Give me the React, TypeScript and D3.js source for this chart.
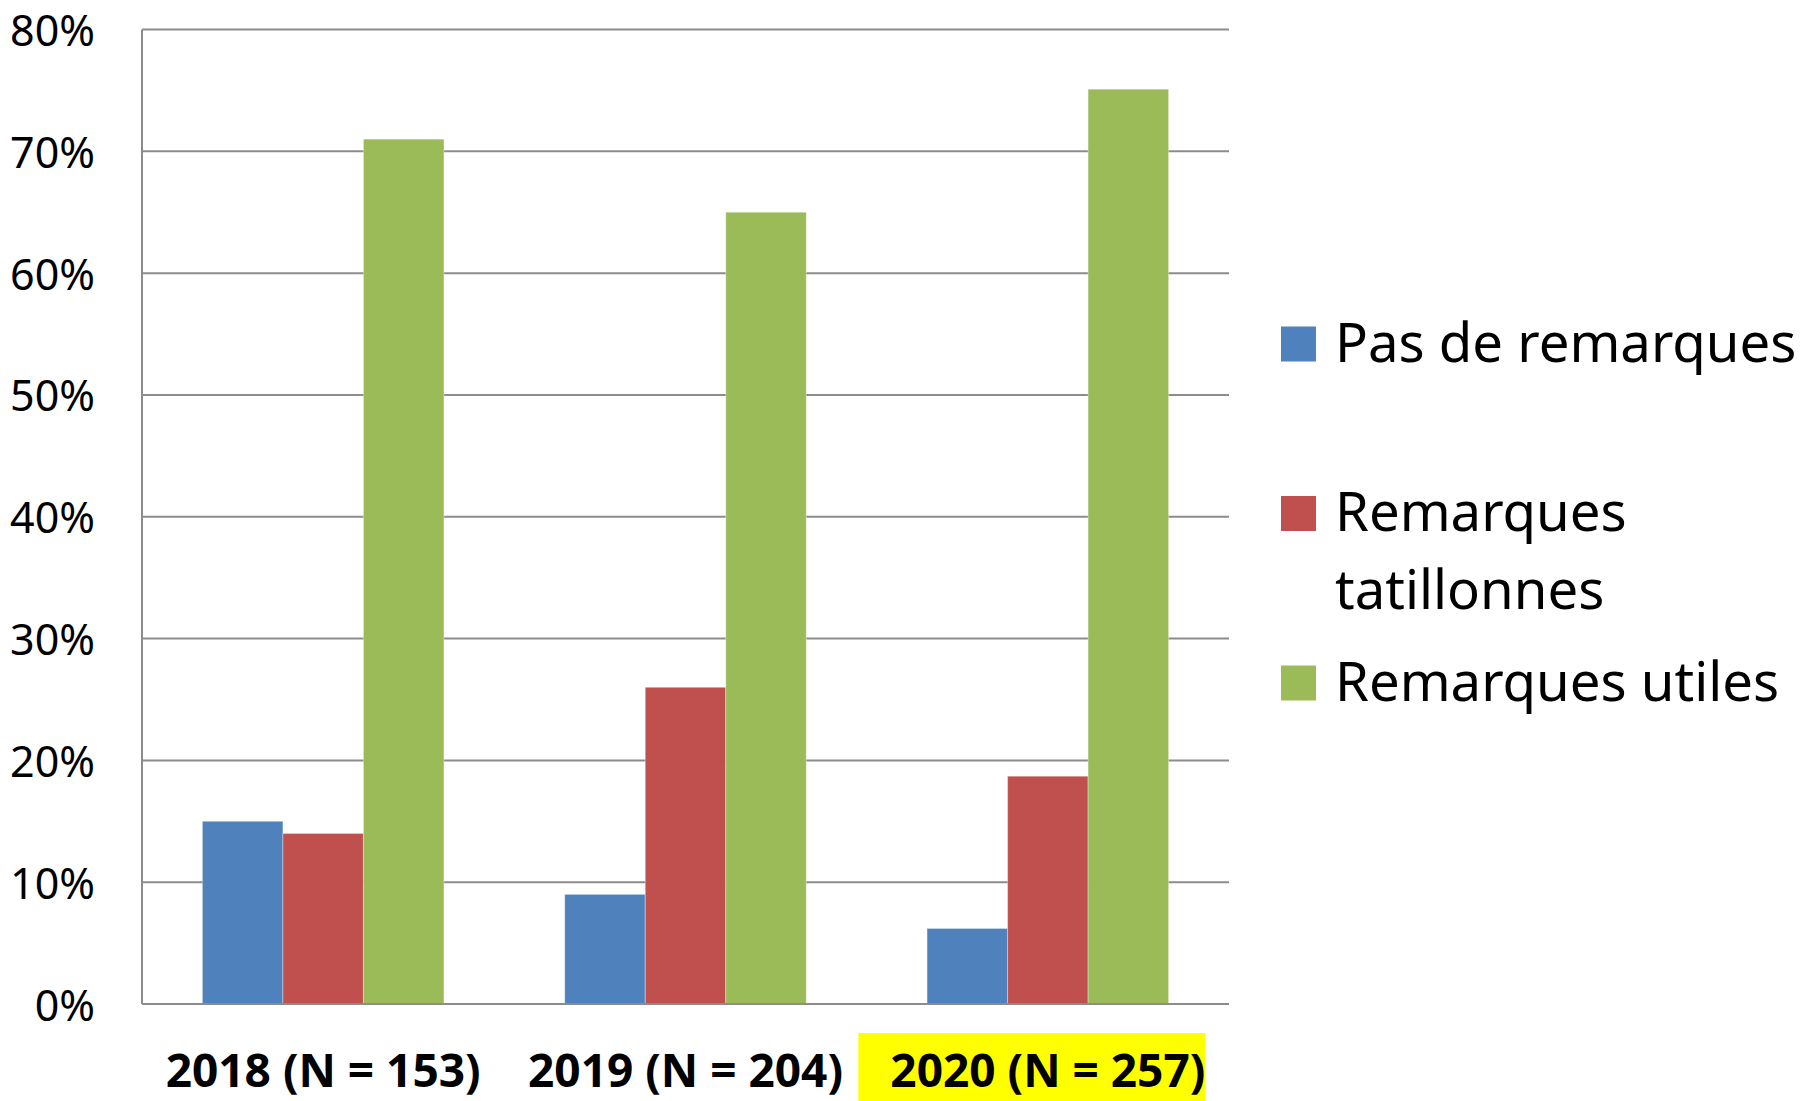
import React, { useLayoutEffect, useRef, useState } from "react";
import * as d3 from "d3";

const categories = ["2018 (N = 153)", "2019 (N = 204)", "2020 (N = 257)"];
const seriesNames = ["Pas de remarques", "Remarques tatillonnes", "Remarques utiles"];
const pasDeRemarques = [15, 9, 6.2];
const remarquesTatillonnes = [14, 26, 18.7];
const remarquesUtiles = [71, 65, 75.1];
const yTicks = [0, 10, 20, 30, 40, 50, 60, 70, 80];
const highlighted = "2020 (N = 257)";

const colors = ["#4F81BD", "#C0504D", "#9BBB59"];
const values = [pasDeRemarques, remarquesTatillonnes, remarquesUtiles];

const W = 1805;
const H = 1101;
const margin = { top: 29.5, right: 576, bottom: 97, left: 142 };
const FONT = "'Noto Sans', sans-serif";

export default function App() {
  const labelRef = useRef<SVGTextElement>(null);
  const [hl, setHl] = useState<{ x: number; w: number } | null>(null);

  const x0 = d3
    .scaleBand()
    .domain(categories)
    .range([margin.left, W - margin.right])
    .paddingInner(1 / 3)
    .paddingOuter(1 / 6);
  const x1 = d3
    .scaleBand()
    .domain(seriesNames)
    .range([0, x0.bandwidth()]);
  const y = d3
    .scaleLinear()
    .domain([0, 80])
    .range([H - margin.bottom, margin.top]);

  // mesure du libellé surligné
  useLayoutEffect(() => {
    if (labelRef.current) {
      const b = labelRef.current.getBBox();
      setHl({ x: b.x - 32, w: b.width + 32 });
    }
  }, []);

  const plotRight = W - margin.right;
  const legendRows = [
    { lines: ["Pas de remarques"], sq: 344 },
    { lines: ["Remarques", "tatillonnes"], sq: 513.5 },
    { lines: ["Remarques utiles"], sq: 683 },
  ];

  return (
    <svg
      width={W}
      height={H}
      style={{ position: "absolute", left: 0, top: 0, background: "#fff" }}
      fontFamily={FONT}
    >
      {/* grille */}
      {yTicks.map((t) => (
        <line
          key={t}
          x1={margin.left}
          x2={plotRight}
          y1={y(t)}
          y2={y(t)}
          stroke="#8c8c8c"
          strokeWidth={2}
        />
      ))}
      <line
        x1={margin.left}
        x2={margin.left}
        y1={y(80)}
        y2={y(0)}
        stroke="#8c8c8c"
        strokeWidth={2}
      />

      {/* barres */}
      {categories.map((c, i) => (
        <g key={c} transform={`translate(${x0(c)},0)`}>
          {seriesNames.map((s, j) => (
            <rect
              key={s}
              x={x1(s)}
              y={y(values[j][i])}
              width={x1.bandwidth()}
              height={y(0) - y(values[j][i])}
              fill={colors[j]}
              stroke="rgba(255,255,255,0.35)"
              strokeWidth={1}
            />
          ))}
        </g>
      ))}
      <line
        x1={margin.left}
        x2={plotRight}
        y1={y(0)}
        y2={y(0)}
        stroke="#8c8c8c"
        strokeWidth={2}
      />

      {/* axe Y */}
      {yTicks.map((t) => (
        <text
          key={t}
          x={95}
          y={y(t)}
          textAnchor="end"
          dominantBaseline="central"
          fontSize={43}
          fill="#000"
        >
          {t}%
        </text>
      ))}

      {/* surlignage */}
      {hl && (
        <rect x={hl.x} y={1033} width={hl.w} height={H - 1033} fill="#FFFF00" />
      )}

      {/* axe X */}
      {categories.map((c) => (
        <text
          key={c}
          ref={c === highlighted ? labelRef : undefined}
          x={(x0(c) as number) + x0.bandwidth() / 2}
          y={1087}
          textAnchor="middle"
          fontSize={46}
          fontWeight="bold"
          fill="#000"
        >
          {c}
        </text>
      ))}

      {/* légende */}
      {legendRows.map((r, i) => (
        <g key={i}>
          <rect x={1281} y={r.sq - 17.5} width={35} height={35} fill={colors[i]} />
          {r.lines.map((l, k) => (
            <text
              key={k}
              x={1335}
              y={r.sq + 17.5 + k * 78}
              fontSize={54.5}
              fill="#000"
            >
              {l}
            </text>
          ))}
        </g>
      ))}
    </svg>
  );
}
